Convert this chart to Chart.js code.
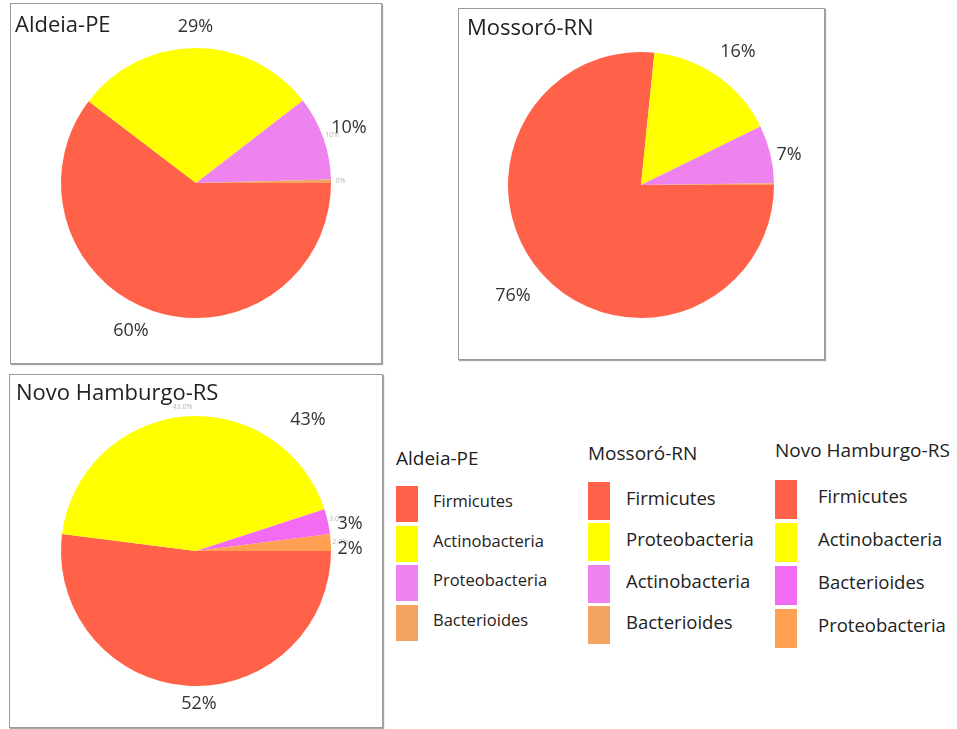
<!DOCTYPE html>
<html>
<head>
<meta charset="utf-8">
<script src="https://cdn.jsdelivr.net/npm/chart.js@4"></script>
<style>
  body { margin: 0; background: #fff; font-family: "Open Sans", sans-serif; color: #222; }
  #page { position: relative; width: 957px; height: 729px; overflow: hidden; }
  .box { position: absolute; border: 1px solid #9a9a9a; box-shadow: 1px 1px 1px rgba(0,0,0,0.35); background: #fff; }
  .box canvas { position: absolute; left: 0; top: 0; }
  .box .title { position: absolute; font-size: 22px; line-height: 1; z-index: 2; }
  .leg { position: absolute; }
  .leg .head { position: absolute; left: 0; white-space: nowrap; line-height: 1; }
  .leg .sw { position: absolute; left: 0; width: 22px; }
  .leg .lab { position: absolute; white-space: nowrap; line-height: 1; }
</style>
</head>
<body>
<div id="page"></div>
<script>
// three sites, each one pie
var sites = ['Aldeia-PE', 'Mossoró-RN', 'Novo Hamburgo-RS'];

var aldeiaLabels = ['Firmicutes', 'Actinobacteria', 'Proteobacteria', 'Bacterioides'];
var aldeiaValues = [60, 29, 10, 0.4];

var mossoroLabels = ['Firmicutes', 'Proteobacteria', 'Actinobacteria', 'Bacterioides'];
var mossoroValues = [76, 16, 7, 0.2];

var novoLabels = ['Firmicutes', 'Actinobacteria', 'Bacterioides', 'Proteobacteria'];
var novoValues = [52, 43, 3, 2];

// colours by slice position
var aldeiaColors = ['#ff6149', '#ffff00', '#ee82ee', '#f4a460'];
var mossoroColors = ['#ff6149', '#ffff00', '#ee82ee', '#f4a460'];
var novoColors = ['#ff6149', '#ffff00', '#f26bf2', '#ffa052'];

// layout of each box (page px) and the pie inside it
var boxes = [
  { left: 10, top: 3, w: 370, h: 359, pad: { left: 50, right: 50, top: 44, bottom: 45 },
    titleX: 4, titleY: 8, big: [0, 1, 2], ghost: [2, 3], ghostDec: 0,
    moved: { 0: [-65, 148], 2: [153, -55] } },
  { left: 458, top: 8, w: 365, h: 350, pad: { left: 49, right: 50, top: 43, bottom: 41 },
    titleX: 8, titleY: 6, big: [0, 1, 2], ghost: [], ghostDec: 0,
    moved: { 0: [-128, 111], 1: [97, -133], 2: [148, -30] } },
  { left: 9, top: 374, w: 372, h: 352, pad: { left: 51, right: 51, top: 41, bottom: 41 },
    titleX: 6, titleY: 5, big: [0, 1, 2, 3], ghost: [1, 2, 3], ghostDec: 1,
    moved: { 0: [3, 153], 1: [112, -131], 2: [154, -27], 3: [154, -2] } }
];

var allLabels = [aldeiaLabels, mossoroLabels, novoLabels];
var allValues = [aldeiaValues, mossoroValues, novoValues];
var allColors = [aldeiaColors, mossoroColors, novoColors];

// percent labels drawn around the pie (values are already percents)
var pctPlugin = {
  id: 'pct',
  afterDatasetsDraw: function (chart, args, opts) {
    var ctx = chart.ctx;
    var meta = chart.getDatasetMeta(0);
    var vals = chart.data.datasets[0].data;
    ctx.save();
    ctx.textAlign = 'center';
    ctx.textBaseline = 'middle';
    meta.data.forEach(function (arc, i) {
      var mid = (arc.startAngle + arc.endAngle) / 2;
      if (opts.ghost.indexOf(i) >= 0) {
        ctx.font = '7px "Open Sans"';
        ctx.fillStyle = '#b5b5b5';
        var g = arc.outerRadius * 1.07;
        ctx.fillText(vals[i].toFixed(opts.ghostDec) + '%', arc.x + Math.cos(mid) * g, arc.y + Math.sin(mid) * g);
      }
      if (opts.big.indexOf(i) >= 0) {
        ctx.font = '18px "Open Sans"';
        ctx.fillStyle = '#333';
        var x, y;
        if (opts.moved[i]) {
          x = arc.x + opts.moved[i][0];
          y = arc.y + opts.moved[i][1];
        } else {
          var r = arc.outerRadius * 1.16;
          x = arc.x + Math.cos(mid) * r;
          y = arc.y + Math.sin(mid) * r;
        }
        ctx.fillText(Math.round(vals[i]) + '%', x, y);
      }
    });
    ctx.restore();
  }
};

var page = document.getElementById('page');

boxes.forEach(function (b, k) {
  var div = document.createElement('div');
  div.className = 'box';
  div.style.left = b.left + 'px';
  div.style.top = b.top + 'px';
  div.style.width = b.w + 'px';
  div.style.height = b.h + 'px';
  var cv = document.createElement('canvas');
  cv.width = b.w;
  cv.height = b.h;
  div.appendChild(cv);
  var t = document.createElement('div');
  t.className = 'title';
  t.textContent = sites[k];
  t.style.left = b.titleX + 'px';
  t.style.top = b.titleY + 'px';
  div.appendChild(t);
  page.appendChild(div);

  new Chart(cv.getContext('2d'), {
    type: 'pie',
    data: {
      labels: allLabels[k],
      datasets: [{
        data: allValues[k],
        backgroundColor: allColors[k],
        borderWidth: 0
      }]
    },
    options: {
      responsive: false,
      animation: false,
      rotation: 90,
      layout: { padding: b.pad },
      plugins: {
        legend: { display: false },
        tooltip: { enabled: false },
        pct: { big: b.big, ghost: b.ghost, ghostDec: b.ghostDec, moved: b.moved }
      }
    },
    plugins: [pctPlugin]
  });
});

// legend columns, built from the same arrays
var legPos = [
  { left: 396, headY: 449, headSize: 19, swTop: 486, step: 39.5, swH: 36, labX: 37, size: 16.5 },
  { left: 588, headY: 444, headSize: 19, swTop: 482, step: 41.3, swH: 38, labX: 38, size: 18.5 },
  { left: 775, headY: 441, headSize: 19, swTop: 480, step: 43, swH: 39, labX: 43, size: 18.5 }
];
legPos.forEach(function (p, k) {
  var col = document.createElement('div');
  col.className = 'leg';
  col.style.left = p.left + 'px';
  col.style.top = '0px';
  var h = document.createElement('div');
  h.className = 'head';
  h.textContent = sites[k];
  h.style.top = p.headY + 'px';
  h.style.fontSize = p.headSize + 'px';
  col.appendChild(h);
  allLabels[k].forEach(function (name, i) {
    var y = Math.round(p.swTop + i * p.step);
    var sw = document.createElement('div');
    sw.className = 'sw';
    sw.style.top = y + 'px';
    sw.style.height = p.swH + 'px';
    sw.style.background = allColors[k][i];
    col.appendChild(sw);
    var lab = document.createElement('div');
    lab.className = 'lab';
    lab.textContent = name;
    lab.style.fontSize = p.size + 'px';
    lab.style.left = p.labX + 'px';
    lab.style.top = Math.round(y + p.swH / 2 - 2 - p.size * 0.55) + 'px';
    col.appendChild(lab);
  });
  page.appendChild(col);
});
</script>
</body>
</html>
